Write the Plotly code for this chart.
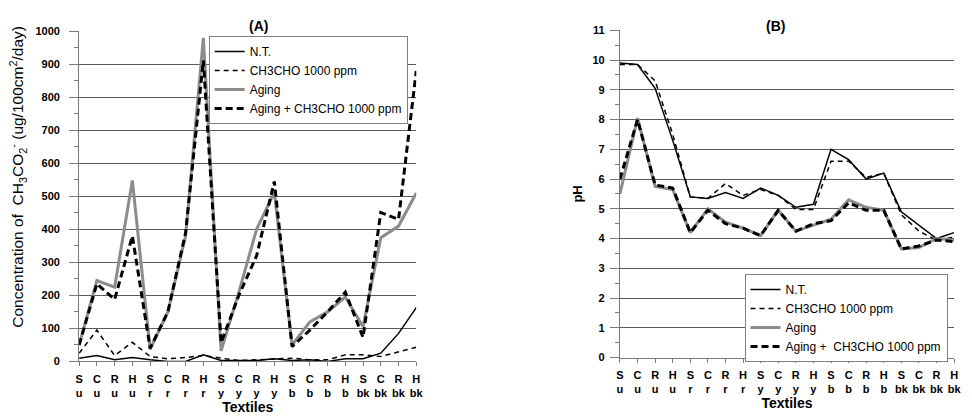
import plotly.graph_objects as go

categories = ["S<br>u", "C<br>u", "R<br>u", "H<br>u", "S<br>r", "C<br>r", "R<br>r", "H<br>r",
              "S<br>y", "C<br>y", "R<br>y", "H<br>y", "S<br>b", "C<br>b", "R<br>b", "H<br>b",
              "S<br>bk", "C<br>bk", "R<br>bk", "H<br>bk"]

# Panel A: acetate concentration
a_nt = [10, 18, 5, 12, 5, 0, 0, 20, 3, 2, 3, 8, 3, 5, 0, 8, 8, 25, 85, 163]
a_ch3cho = [25, 95, 18, 58, 15, 8, 12, 18, 10, 3, 5, 8, 10, 5, 5, 20, 20, 15, 30, 43]
a_aging = [50, 245, 225, 548, 37, 150, 380, 980, 32, 210, 400, 512, 50, 120, 150, 195, 105, 375, 410, 510]
a_aging_ch3cho = [50, 235, 188, 380, 40, 150, 390, 912, 57, 200, 320, 545, 45, 95, 150, 210, 73, 451, 430, 880]

# Panel B: pH
b_nt = [9.9, 9.85, 9.05, 7.3, 5.4, 5.35, 5.55, 5.35, 5.7, 5.45, 5.05, 5.15, 7.0, 6.65, 6.0, 6.2, 4.9, 4.45, 4.0, 4.2]
b_ch3cho = [9.85, 9.85, 9.3, 7.5, 5.4, 5.35, 5.85, 5.45, 5.65, 5.45, 4.98, 4.98, 6.6, 6.6, 6.05, 6.2, 4.8, 4.25, 3.95, 4.05]
b_aging = [5.5, 8.05, 5.75, 5.65, 4.2, 5.0, 4.55, 4.35, 4.1, 4.95, 4.25, 4.45, 4.65, 5.3, 5.05, 4.95, 3.65, 3.7, 4.0, 3.95]
b_aging_ch3cho = [6.0, 8.0, 5.8, 5.7, 4.2, 4.95, 4.5, 4.35, 4.1, 4.95, 4.25, 4.5, 4.6, 5.2, 4.95, 4.95, 3.65, 3.75, 3.95, 3.9]

names_a = ["N.T.", "CH3CHO 1000 ppm", "Aging", "Aging + CH3CHO 1000 ppm"]
names_b = ["N.T.", "CH3CHO 1000 ppm", "Aging", "Aging +\u00a0 CH3CHO 1000 ppm"]

styles = [
    dict(color="black", width=1.5, dash="solid"),
    dict(color="black", width=1.5, dash="5px,4px"),
    dict(color="#8c8c8c", width=3, dash="solid"),
    dict(color="black", width=3, dash="7px,4px"),
]

x = list(range(len(categories)))
FONT = "Liberation Sans, Arial, sans-serif"

fig = go.Figure()
for ys, nm, st in zip([a_nt, a_ch3cho, a_aging, a_aging_ch3cho], names_a, styles):
    fig.add_trace(go.Scatter(x=x, y=ys, mode="lines", name=nm, line=st,
                             xaxis="x", yaxis="y", legend="legend"))
for ys, nm, st in zip([b_nt, b_ch3cho, b_aging, b_aging_ch3cho], names_b, styles):
    fig.add_trace(go.Scatter(x=x, y=ys, mode="lines", name=nm, line=st,
                             xaxis="x2", yaxis="y2", legend="legend2"))

W, H = 972, 417
def px_x(v):
    return v / W
def px_y(v):
    return (H - v) / H

axis_col = "#7a7a7a"
grid_col = "#5a5a5a"
tickfont = dict(family=FONT, size=11, color="black", weight="bold")

xcommon = dict(tickmode="array", tickvals=x, ticktext=categories, range=[0, 19],
               showline=True, linecolor=axis_col, linewidth=1, ticks="outside",
               ticklen=4, tickcolor=axis_col, showgrid=False, zeroline=False,
               tickfont=tickfont, tickangle=0, ticklabelstandoff=3,
               title=dict(text="<b>Textiles</b>", font=dict(family=FONT, size=14, color="black"),
                          standoff=1))

fig.update_layout(
    width=W, height=H,
    margin=dict(l=0, r=0, t=0, b=0),
    paper_bgcolor="white", plot_bgcolor="white",
    font=dict(family=FONT, color="black"),
    xaxis=dict(domain=[px_x(76), px_x(417)], anchor="y", **xcommon),
    yaxis=dict(domain=[px_y(366), px_y(26)], anchor="x", range=[0, 1000],
               dtick=100, showline=True, linecolor=axis_col, ticks="outside",
               ticklen=9, tickcolor=axis_col, showgrid=True, gridcolor=grid_col,
               gridwidth=1, zeroline=False, tickfont=tickfont, ticklabelstandoff=7,
               minor=dict(dtick=50, ticks="outside", ticklen=4, tickcolor=axis_col, showgrid=False)),
    xaxis2=dict(domain=[px_x(623), px_x(961)], anchor="y2", **xcommon),
    yaxis2=dict(domain=[px_y(362), px_y(25)], anchor="x2", range=[0, 11],
                dtick=1, showline=True, linecolor=axis_col, ticks="outside",
                ticklen=9, tickcolor=axis_col, showgrid=True, gridcolor=grid_col,
                gridwidth=1, zeroline=False, tickfont=tickfont, ticklabelstandoff=3,
                minor=dict(dtick=0.5, ticks="outside", ticklen=4, tickcolor=axis_col, showgrid=False),
                title=dict(text="<b>pH</b>", font=dict(family=FONT, size=13, color="black"),
                           standoff=6)),
    legend=dict(x=px_x(207), y=px_y(31), xanchor="left", yanchor="top",
                bgcolor="white", bordercolor="#808080", borderwidth=1,
                font=dict(family=FONT, size=12, color="black"), tracegroupgap=0,
                itemwidth=30),
    legend2=dict(x=px_x(749), y=px_y(276), xanchor="left", yanchor="top",
                 bgcolor="white", bordercolor="#808080", borderwidth=1,
                 font=dict(family=FONT, size=12, color="black"), tracegroupgap=0,
                 itemwidth=30),
    showlegend=True,
    annotations=[
        dict(text="<b>(A)</b>", x=px_x(246), y=px_y(10), xref="paper", yref="paper",
             showarrow=False, font=dict(family=FONT, size=14, color="black")),
        dict(text="<b>(B)</b>", x=px_x(792), y=px_y(10), xref="paper", yref="paper",
             showarrow=False, font=dict(family=FONT, size=14, color="black")),
        dict(text="Concentration of  CH<sub>3</sub>CO<sub>2</sub><sup>-</sup> (ug/100cm<sup>2</sup>/day)",
             x=px_x(14), y=px_y(176), xref="paper", yref="paper", textangle=-90,
             xanchor="center", yanchor="middle",
             showarrow=False, font=dict(family=FONT, size=15.5, color="black")),
    ],
)

fig.write_html("out.html")
